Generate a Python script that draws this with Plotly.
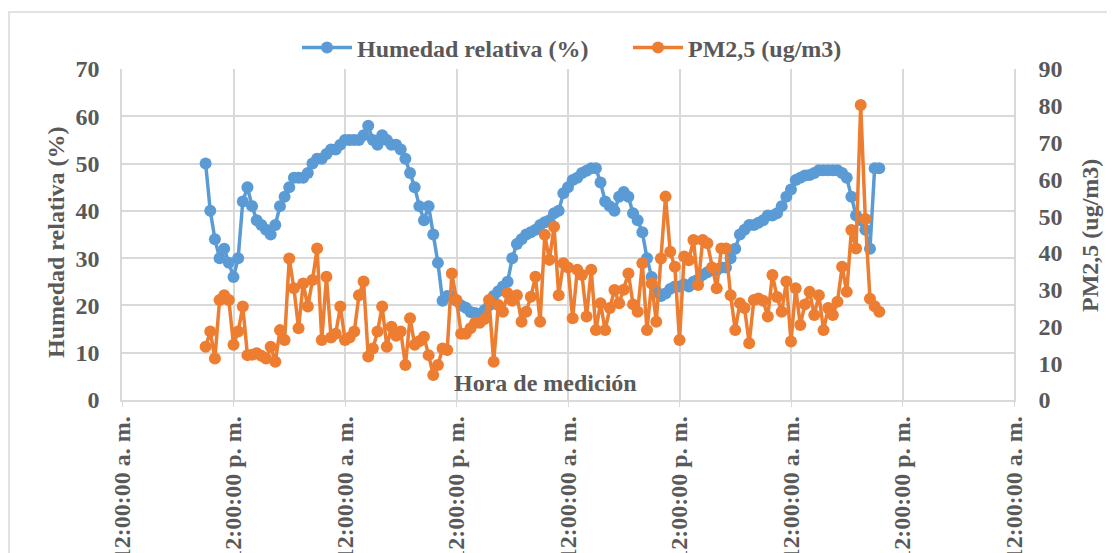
import pandas as pd
import plotly.graph_objects as go

# ---- data (30-min readings) ----
start_time = "2020-01-01 09:00"
n_points = 146
times = pd.date_range(start_time, periods=n_points, freq="30min")

humedad = [
    50, 40, 34, 30, 32, 29, 26, 30, 42, 45,
    41, 38, 37, 36, 35, 37, 41, 43, 45, 47,
    47, 47, 48, 50, 51, 51, 52, 53, 53, 54,
    55, 55, 55, 55, 56, 58, 55, 54, 56, 55,
    54, 54, 53, 51, 48, 45, 41, 38, 41, 35,
    29, 21, 22, 22, 21, 20, 19.5, 18.6, 18.4, 18,
    19, 20, 22, 23, 24, 25, 30, 33, 34, 35,
    35.5, 36, 37, 37.6, 38, 39.5, 40, 43.7, 45, 46.5,
    47, 48, 48.5, 49, 49, 46, 42, 41, 40, 43,
    44, 43, 39.5, 38, 35.5, 30, 26, 23, 22, 22.5,
    23.5, 24, 24, 24.5, 24, 25, 25.5, 26.5, 27, 27.5,
    27.5, 28, 28, 30, 32, 35, 36, 37, 37, 37.5,
    38, 39, 39, 39.5, 41, 43, 44.5, 46.5, 47, 47.5,
    47.6, 48, 48.6, 48.6, 48.6, 48.6, 48.6, 48, 47, 43,
    39, 38, 36, 32, 49, 49,
]

pm25 = [
    14.5, 18.6, 11.3, 27.2, 28.5, 27.2, 15, 18.6, 25.4, 12.2,
    12.3, 12.7, 12, 11.3, 14.5, 10.4, 19, 16.3, 38.5, 30.4,
    19.5, 31.7, 25.4, 32.6, 41.2, 16.3, 33.5, 17, 18, 25.4,
    16.3, 17, 18.6, 28.5, 32.2, 11.8, 14, 18.6, 25.4, 14.5,
    19.9, 17.5, 18.6, 9.5, 22.2, 15, 16, 17.2, 12.2, 6.8,
    9.5, 14, 13.6, 34.4, 27.2, 18, 18, 19.5, 21, 21,
    22, 27.2, 10.4, 25.8, 24, 29, 27, 28.5, 21.3, 24,
    28.1, 33.5, 21.3, 44.9, 38.1, 47.1, 28.5, 37.2, 36, 22.2,
    35.4, 34, 22.7, 35.4, 19, 26.3, 19, 25, 29.9, 26.3,
    30, 34.4, 26, 24, 37.2, 19, 31.7, 21.3, 38.5, 55.3,
    40.3, 36.2, 16.3, 39, 38, 43.5, 31.3, 43.5, 42.6, 36,
    30.4, 41.2, 41.2, 28.5, 19, 26.3, 25, 15.4, 27.2, 27.6,
    27, 22.7, 34, 28, 24, 32.2, 15.9, 30.4, 20.4, 26,
    29.4, 23.1, 28.5, 19, 25, 23.1, 26.7, 36.2, 29.4, 46.2,
    41.2, 80.2, 49.2, 27.5, 25.5, 24,
]

tick_times = pd.date_range("2020-01-01 00:00", periods=9, freq="12h")
tick_labels = ["12:00:00 a. m.", "12:00:00 p. m."] * 4 + ["12:00:00 a. m."]

name_h = "Humedad relativa (%)"
name_pm = "PM2,5 (ug/m3)"

BLUE = "#5B9BD5"
ORANGE = "#ED7D31"
TXT = "#595959"
GRID = "#D9D9D9"
FONT = "Liberation Serif"
FS = 24

# page body has an 8px margin: plot area should land at x 122..1014, y 69..400
OFF = 8
W, H = 1115 - OFF, 553 - OFF
L, T = 122 - OFF, 69 - OFF
PW, PH = 892, 331


def px_x(px):
    return (px - 122) / PW


def px_y(py):
    return (400 - py) / PH


fig = go.Figure()
fig.add_trace(go.Scatter(
    x=times, y=humedad, name=name_h, mode="lines+markers", legend="legend",
    line=dict(color=BLUE, width=3.5), marker=dict(color=BLUE, size=12),
))
fig.add_trace(go.Scatter(
    x=times, y=pm25, name=name_pm, mode="lines+markers", yaxis="y2", legend="legend2",
    line=dict(color=ORANGE, width=3.5), marker=dict(color=ORANGE, size=12),
))

tick_font = dict(family=FONT, size=FS, color=TXT, weight="bold")
leg_font = dict(family=FONT, size=FS, color=TXT, weight="bold")

fig.update_layout(
    width=W, height=H,
    margin=dict(l=L, r=W - L - PW, t=T, b=H - T - PH, autoexpand=False),
    paper_bgcolor="white", plot_bgcolor="white",
    font=dict(family=FONT, color=TXT),
    showlegend=True,
    legend=dict(
        orientation="h", x=px_x(297), y=px_y(48), xanchor="left", yanchor="middle",
        font=leg_font, bgcolor="rgba(0,0,0,0)", itemwidth=50,
    ),
    legend2=dict(
        orientation="h", x=px_x(628), y=px_y(48), xanchor="left", yanchor="middle",
        font=leg_font, bgcolor="rgba(0,0,0,0)", itemwidth=50,
    ),
    xaxis=dict(
        type="date",
        range=[tick_times[0], tick_times[-1]],
        tickmode="array", tickvals=list(tick_times), ticktext=tick_labels,
        tickangle=-90, tickfont=tick_font,
        showgrid=True, gridcolor=GRID, gridwidth=1.5,
        showline=True, linecolor=GRID, linewidth=1.5,
        ticks="outside", ticklen=5, tickcolor=GRID,
        zeroline=False,
    ),
    yaxis=dict(
        range=[0, 70], dtick=10, tickfont=tick_font,
        showgrid=True, gridcolor=GRID, gridwidth=1.5,
        showline=True, linecolor=GRID, linewidth=1.5,
        ticks="outside", ticklen=16, tickcolor="rgba(0,0,0,0)",
        zeroline=False,
    ),
    yaxis2=dict(
        range=[0, 90], dtick=10, overlaying="y", side="right",
        tickfont=tick_font, showgrid=False,
        showline=True, linecolor=GRID, linewidth=1.5,
        ticks="outside", ticklen=18, tickcolor="rgba(0,0,0,0)",
        zeroline=False,
    ),
    shapes=[dict(
        type="rect", xref="paper", yref="paper",
        x0=px_x(9), x1=px_x(1112), y0=px_y(620), y1=px_y(12),
        line=dict(color=GRID, width=1.5), layer="below",
    )],
    annotations=[
        dict(text=name_h, textangle=-90, xref="paper", yref="paper",
             x=px_x(56), y=px_y(242), xanchor="center", yanchor="middle",
             showarrow=False, font=leg_font),
        dict(text=name_pm, textangle=-90, xref="paper", yref="paper",
             x=px_x(1090), y=px_y(236), xanchor="center", yanchor="middle",
             showarrow=False, font=leg_font),
        dict(text="Hora de medición", xref="paper", yref="paper",
             x=px_x(545), y=px_y(383), xanchor="center", yanchor="middle",
             showarrow=False, font=leg_font),
    ],
)

fig.write_html("out.html")
